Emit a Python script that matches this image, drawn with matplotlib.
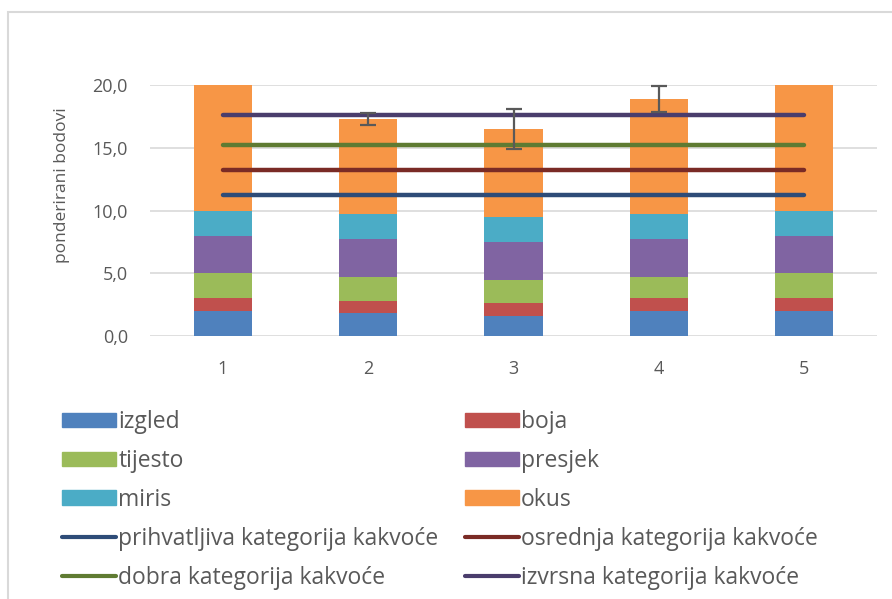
import matplotlib.pyplot as plt
import matplotlib.patches as mpatches
import matplotlib.lines as mlines
import numpy as np

samples = ['1', '2', '3', '4', '5']
izgled = [2.0, 1.8, 1.6, 2.0, 2.0]
boja = [1.0, 1.0, 1.0, 1.0, 1.0]
tijesto = [2.0, 1.9, 1.9, 1.7, 2.0]
presjek = [3.0, 3.0, 3.0, 3.0, 3.0]
miris = [2.0, 2.0, 2.0, 2.0, 2.0]
okus = [10.0, 7.6, 7.0, 9.2, 10.0]
err = [0.0, 0.45, 1.6, 1.05, 0.0]

cat_names = ['prihvatljiva kategorija kakvoće', 'osrednja kategorija kakvoće',
             'dobra kategorija kakvoće', 'izvrsna kategorija kakvoće']
cat_limits = [11.2, 13.2, 15.2, 17.6]

seg_names = ['izgled', 'boja', 'tijesto', 'presjek', 'miris', 'okus']
seg_colors = ['#4F81BD', '#C0504D', '#9BBB59', '#8064A2', '#4BACC6', '#F79646']
cat_colors = ['#2E4C78', '#7A2B25', '#5F7B32', '#4A3D6C']

plt.rcParams['font.family'] = ['Open Sans', 'DejaVu Sans']
txt = '#595959'

fig = plt.figure(figsize=(8.92, 5.99), dpi=100)
ax = fig.add_axes([150 / 892, 263 / 599, 727 / 892, 251 / 599])

x = np.arange(1, 6)
bottom = np.zeros(5)
for vals, name, c in zip([izgled, boja, tijesto, presjek, miris, okus], seg_names, seg_colors):
    ax.bar(x, vals, 0.4, bottom=bottom, color=c, label=name, zorder=2)
    bottom = bottom + np.array(vals)

# error bars on the total
tot = bottom
has_err = np.array(err) > 0
ax.errorbar(x[has_err], tot[has_err], yerr=np.array(err)[has_err], fmt='none',
            ecolor='#595959', elinewidth=1.6, capsize=5.5, capthick=1.6, zorder=5, clip_on=False)

# quality category lines
for lim, name, c in zip(cat_limits, cat_names, cat_colors):
    ax.plot([x[0], x[-1]], [lim, lim], color=c, lw=3.2, solid_capstyle='round', zorder=4)

ax.set_xlim(0.5, 5.5)
ax.set_ylim(0, 20)
ax.set_yticks([0, 5, 10, 15, 20])
ax.set_yticklabels(['0,0', '5,0', '10,0', '15,0', '20,0'])
ax.set_xticks(x)
ax.set_xticklabels(samples)
ax.tick_params(length=0, colors=txt, labelsize=13)
ax.tick_params(axis='y', pad=16)
ax.tick_params(axis='x', pad=17)
ax.grid(axis='y', color='#D9D9D9', lw=1.2, zorder=0)
for s in ax.spines.values():
    s.set_visible(False)
ax.set_ylabel('ponderirani bodovi', color=txt, fontsize=12.5)
ax.yaxis.set_label_coords(-0.11, 0.60)

# legend built row by row (two columns)
def handle(i):
    if i < 6:
        return mpatches.Patch(color=seg_colors[i])
    return mlines.Line2D([], [], color=cat_colors[i - 6], lw=3, solid_capstyle='round')

labels = seg_names + cat_names
left_idx = [0, 2, 4, 6, 8]
right_idx = [1, 3, 5, 7, 9]
for idxs, xpos in [(left_idx, 62 / 892), (right_idx, 465 / 892)]:
    leg = fig.legend([handle(i) for i in idxs], [labels[i] for i in idxs],
                     loc='upper left', bbox_to_anchor=(xpos, 1 - 410 / 599),
                     frameon=False, fontsize=16.5, labelcolor=txt,
                     handlelength=2.35, handleheight=0.6, handletextpad=0.1,
                     labelspacing=0.65, borderpad=0, borderaxespad=0)

# outer frame
fig.add_artist(mpatches.Rectangle((8 / 892, -0.1), 1.2, 1 - 12 / 599 + 0.1,
                                  transform=fig.transFigure, fill=False,
                                  edgecolor='#D9D9D9', lw=1.5))

fig.savefig('out.png', dpi=100)
